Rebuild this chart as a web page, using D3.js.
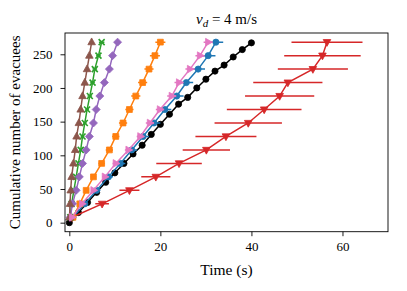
<!DOCTYPE html>
<html>
<head>
<meta charset="utf-8">
<script src="https://cdn.jsdelivr.net/npm/d3@7"></script>
<style>
body { margin: 0; background: #fff; }
text { font-family: "Liberation Serif", "DejaVu Serif", serif; fill: #000; }
</style>
</head>
<body>
<script>
var w = 407;
var h = 291;

// counts used by the binned series
var counts = [8, 28, 48, 68, 88, 108, 128, 148, 168, 188, 208, 228, 248, 268];

// black reference curve, sampled every 2 s
var blackTime = [0, 2, 4, 6, 8, 10, 12, 14, 16, 18, 20, 22, 24, 26, 28, 30, 32, 34, 36, 38, 40];
var blackCount = [0, 15, 30, 45, 60, 74, 88, 102, 115, 131, 146, 161, 176, 186, 200, 213, 225, 234, 246, 257, 267];

var redTime = [0.6, 7.2, 13.2, 19.0, 24.1, 30.1, 34.4, 39.3, 42.8, 46.2, 48.0, 53.5, 55.6, 56.6];
var redErr = [0.5, 1.5, 2.2, 3.2, 5.0, 5.2, 6.7, 7.4, 8.2, 7.6, 7.6, 7.7, 8.4, 7.8];
var blueTime = [0.8, 3.4, 6.0, 8.6, 11.2, 13.7, 16.2, 18.6, 21.0, 23.6, 25.7, 28.3, 30.5, 32.2];
var blueErr = [0.3, 0.6, 0.8, 1.0, 1.1, 1.2, 1.3, 1.4, 1.4, 1.5, 1.5, 1.5, 1.6, 1.6];
var pinkTime = [0.6, 2.8, 5.3, 7.8, 10.2, 13.0, 15.6, 17.7, 19.9, 22.5, 24.1, 26.5, 28.7, 30.5];
var pinkErr = [0.2, 0.4, 0.5, 0.6, 0.7, 0.8, 0.8, 0.9, 0.9, 1.0, 1.0, 1.0, 1.0, 1.0];
var orangeTime = [0.8, 2.3, 3.7, 5.3, 7.1, 8.8, 10.2, 11.8, 13.2, 14.6, 16.1, 17.5, 18.8, 20.0];
var orangeErr = [0.2, 0.4, 0.5, 0.6, 0.7, 0.8, 0.8, 0.9, 0.9, 1.0, 1.0, 1.0, 1.1, 1.1];
var purpleTime = [0.2, 0.7, 1.5, 2.2, 2.9, 3.7, 4.4, 5.3, 5.9, 6.7, 7.7, 8.8, 9.5, 10.6];
var greenTime = [0.2, 0.5, 1.0, 1.5, 2.0, 2.5, 2.9, 3.4, 3.9, 4.5, 5.1, 5.6, 6.4, 7.1];
var greenErr = [0.1, 0.2, 0.2, 0.3, 0.3, 0.3, 0.4, 0.4, 0.4, 0.5, 0.5, 0.5, 0.5, 0.6];
var brownTime = [0.05, 0.15, 0.3, 0.5, 0.9, 1.3, 1.6, 2.1, 2.5, 2.9, 3.4, 3.9, 4.4, 4.9];

var xTicks = [0, 20, 40, 60];
var yTicks = [0, 50, 100, 150, 200, 250];

var plotL = 65, plotR = 388, plotT = 33, plotB = 231.7;

var x = d3.scaleLinear().domain([-0.95, 70]).range([plotL, plotR]);
var y = d3.scaleLinear().domain([-13.4, 281.6]).range([plotB, plotT]);

var svg = d3.select("body").append("svg").attr("width", w).attr("height", h);

var line = d3.line().x(function(d){ return x(d.t); }).y(function(d){ return y(d.n); });

function makeData(times, ns, errs) {
    return times.map(function(t, i){ return {t: t, n: ns[i], e: errs ? errs[i] : 0}; });
}

// marker paths centred on 0,0
function markerPath(kind) {
    if (kind == "circle") return d3.symbol().type(d3.symbolCircle).size(30)();
    if (kind == "square") return d3.symbol().type(d3.symbolSquare).size(34)();
    if (kind == "diamond") return "M0,-4L4,0L0,4L-4,0Z";
    if (kind == "tri_up") return "M0,-4.2L3.8,2.6L-3.8,2.6Z";
    if (kind == "tri_down") return "M0,4.2L3.8,-2.6L-3.8,-2.6Z";
    if (kind == "tri_right") return "M4.2,0L-2.6,3.8L-2.6,-3.8Z";
    if (kind == "x") return "M-3,-3L3,3M-3,3L3,-3";
}

var plot = svg.append("g").attr("clip-path", "url(#clip)");

function drawSeries(data, color, kind) {
    var g = plot.append("g");
    g.selectAll("line.err").data(data.filter(function(d){ return d.e > 0; })).enter().append("line")
        .attr("x1", function(d){ return x(d.t - d.e); })
        .attr("x2", function(d){ return x(d.t + d.e); })
        .attr("y1", function(d){ return y(d.n); })
        .attr("y2", function(d){ return y(d.n); })
        .attr("stroke", color)
        .attr("stroke-width", 1.5);
    g.append("path").datum(data)
        .attr("d", line)
        .attr("fill", "none")
        .attr("stroke", color)
        .attr("stroke-width", 1.5);
    g.selectAll("path.m").data(data).enter().append("path")
        .attr("class", "m")
        .attr("transform", function(d){ return "translate(" + x(d.t) + "," + y(d.n) + ")"; })
        .attr("d", markerPath(kind))
        .attr("fill", kind == "x" ? "none" : color)
        .attr("stroke", color)
        .attr("stroke-width", kind == "x" ? 1.6 : 0.8);
}

svg.append("defs").append("clipPath").attr("id", "clip")
    .append("rect").attr("x", plotL).attr("y", plotT).attr("width", plotR - plotL).attr("height", plotB - plotT);

drawSeries(makeData(blackTime, blackCount), "#000000", "circle");
drawSeries(makeData(redTime, counts, redErr), "#d62728", "tri_down");
drawSeries(makeData(blueTime, counts, blueErr), "#1f77b4", "circle");
drawSeries(makeData(orangeTime, counts, orangeErr), "#ff7f0e", "square");
drawSeries(makeData(greenTime, counts, greenErr), "#2ca02c", "x");
drawSeries(makeData(purpleTime, counts), "#9467bd", "diamond");
drawSeries(makeData(brownTime, counts), "#8c564b", "tri_up");
drawSeries(makeData(pinkTime, counts, pinkErr), "#e377c2", "tri_right");

// frame
svg.append("rect")
    .attr("x", plotL).attr("y", plotT)
    .attr("width", plotR - plotL).attr("height", plotB - plotT)
    .attr("fill", "none").attr("stroke", "#000").attr("stroke-width", 0.9);

var xAxis = svg.append("g").attr("transform", "translate(0," + plotB + ")")
    .call(d3.axisBottom(x).tickValues(xTicks).tickSize(4.5).tickPadding(6).tickFormat(d3.format("d")));
var yAxis = svg.append("g").attr("transform", "translate(" + plotL + ",0)")
    .call(d3.axisLeft(y).tickValues(yTicks).tickSize(4.5).tickPadding(8).tickFormat(d3.format("d")));
[xAxis, yAxis].forEach(function(a){
    a.select(".domain").remove();
    a.selectAll("line").attr("stroke", "#000").attr("stroke-width", 0.9);
    a.selectAll("text").attr("font-family", "Liberation Serif").attr("font-size", 13).attr("fill", "#000");
});

svg.append("text")
    .attr("x", (plotL + plotR) / 2).attr("y", 275)
    .attr("text-anchor", "middle").attr("font-size", 15.5)
    .text("Time (s)");

svg.append("text")
    .attr("transform", "translate(20," + ((plotT + plotB) / 2) + ") rotate(-90)")
    .attr("text-anchor", "middle").attr("font-size", 15)
    .text("Cumulative number of evacuees");

var title = svg.append("text")
    .attr("x", (plotL + plotR) / 2).attr("y", 24)
    .attr("text-anchor", "middle").attr("font-size", 15);
title.append("tspan").attr("font-style", "italic").text("v");
title.append("tspan").attr("font-style", "italic").attr("font-size", 11).attr("dy", 3).text("d");
title.append("tspan").attr("dy", -3).text(" = 4 m/s");
</script>
</body>
</html>
